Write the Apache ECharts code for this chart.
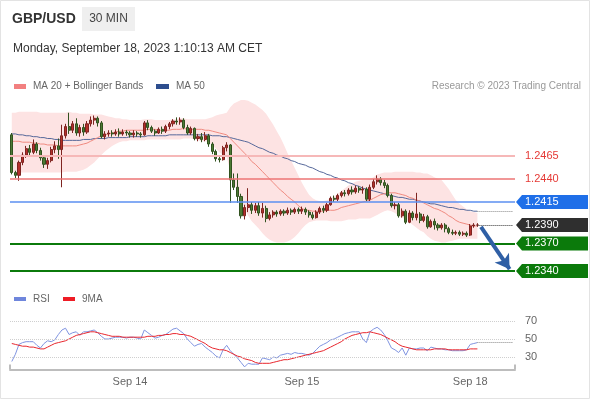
<!DOCTYPE html>
<html>
<head>
<meta charset="utf-8">
<title>GBP/USD 30 MIN</title>
<script src="https://cdn.jsdelivr.net/npm/echarts@6.0.0/dist/echarts.min.js"></script>
<style>
  html, body { margin: 0; padding: 0; background: #fff; }
  #chart { width: 590px; height: 400px; }
</style>
</head>
<body>
<div id="chart"></div>
<script>
// trading sessions: [first candle, number of 30 min candles]
const sessions = [
  ['2023-09-13 07:30', 127],
  ['2023-09-17 23:30', 4]
]
const padCount = 10

// [open, close, low, high]
const candles = [
  [1.2488,1.2447,1.2445,1.2490],[1.2447,1.2444,1.2441,1.2449],[1.2444,1.2458,1.2438,1.2460],[1.2458,1.2466,1.2455,1.2469],[1.2466,1.2473,1.2463,1.2476],
  [1.2473,1.2469,1.2466,1.2477],[1.2469,1.2478,1.2467,1.2483],[1.2478,1.2471,1.2468,1.2480],[1.2471,1.2463,1.2460,1.2474],[1.2463,1.2456,1.2452,1.2465],
  [1.2456,1.2460,1.2451,1.2463],[1.2460,1.2472,1.2458,1.2475],[1.2472,1.2476,1.2468,1.2481],[1.2476,1.2472,1.2462,1.2484],[1.2472,1.2487,1.2431,1.2499],
  [1.2487,1.2497,1.2484,1.2500],[1.2497,1.2493,1.2489,1.2512],[1.2493,1.2500,1.2490,1.2503],[1.2500,1.2490,1.2487,1.2506],[1.2490,1.2496,1.2486,1.2499],
  [1.2496,1.2491,1.2487,1.2500],[1.2491,1.2500,1.2489,1.2503],[1.2500,1.2504,1.2497,1.2508],[1.2504,1.2506,1.2499,1.2509],[1.2506,1.2501,1.2497,1.2508],
  [1.2501,1.2486,1.2484,1.2503],[1.2486,1.2489,1.2483,1.2492],[1.2489,1.2490,1.2486,1.2493],[1.2490,1.2489,1.2486,1.2493],[1.2489,1.2491,1.2487,1.2494],
  [1.2491,1.2489,1.2486,1.2495],[1.2489,1.2491,1.2487,1.2494],[1.2491,1.2490,1.2487,1.2493],[1.2490,1.2488,1.2485,1.2492],[1.2488,1.2490,1.2485,1.2493],
  [1.2490,1.2489,1.2486,1.2492],[1.2489,1.2488,1.2485,1.2491],[1.2488,1.2501,1.2487,1.2503],[1.2501,1.2496,1.2493,1.2504],[1.2496,1.2492,1.2490,1.2498],
  [1.2492,1.2490,1.2487,1.2494],[1.2490,1.2494,1.2489,1.2496],[1.2494,1.2492,1.2489,1.2497],[1.2492,1.2497,1.2490,1.2499],[1.2497,1.2500,1.2494,1.2502],
  [1.2500,1.2503,1.2497,1.2505],[1.2503,1.2502,1.2499,1.2507],[1.2502,1.2504,1.2499,1.2507],[1.2504,1.2496,1.2494,1.2506],[1.2496,1.2490,1.2488,1.2499],
  [1.2490,1.2495,1.2488,1.2497],[1.2495,1.2484,1.2482,1.2496],[1.2484,1.2486,1.2481,1.2489],[1.2486,1.2483,1.2480,1.2490],[1.2483,1.2487,1.2481,1.2491],
  [1.2487,1.2478,1.2475,1.2489],[1.2478,1.2470,1.2467,1.2480],[1.2470,1.2462,1.2459,1.2472],[1.2462,1.2461,1.2458,1.2466],[1.2461,1.2474,1.2460,1.2476],
  [1.2474,1.2477,1.2470,1.2480],[1.2477,1.2439,1.2414,1.2478],[1.2439,1.2431,1.2428,1.2446],[1.2431,1.2421,1.2414,1.2446],[1.2421,1.2400,1.2397,1.2424],
  [1.2400,1.2409,1.2396,1.2412],[1.2409,1.2412,1.2404,1.2430],[1.2412,1.2406,1.2402,1.2415],[1.2406,1.2411,1.2403,1.2414],[1.2411,1.2403,1.2400,1.2415],
  [1.2403,1.2408,1.2398,1.2414],[1.2408,1.2397,1.2393,1.2411],[1.2397,1.2401,1.2395,1.2404],[1.2401,1.2404,1.2398,1.2406],[1.2404,1.2402,1.2399,1.2406],
  [1.2402,1.2405,1.2400,1.2407],[1.2405,1.2403,1.2400,1.2407],[1.2403,1.2406,1.2401,1.2409],[1.2406,1.2404,1.2401,1.2408],[1.2404,1.2407,1.2402,1.2409],
  [1.2407,1.2405,1.2402,1.2409],[1.2405,1.2407,1.2402,1.2410],[1.2407,1.2404,1.2401,1.2409],[1.2404,1.2401,1.2398,1.2406],[1.2401,1.2398,1.2396,1.2404],
  [1.2398,1.2404,1.2397,1.2406],[1.2404,1.2408,1.2402,1.2410],[1.2408,1.2406,1.2403,1.2411],[1.2406,1.2412,1.2404,1.2414],[1.2412,1.2419,1.2411,1.2421],
  [1.2419,1.2418,1.2415,1.2422],[1.2418,1.2422,1.2416,1.2424],[1.2422,1.2425,1.2420,1.2427],[1.2425,1.2424,1.2421,1.2428],[1.2424,1.2428,1.2422,1.2430],
  [1.2428,1.2426,1.2423,1.2432],[1.2426,1.2430,1.2424,1.2433],[1.2430,1.2428,1.2425,1.2432],[1.2428,1.2429,1.2424,1.2432],[1.2429,1.2418,1.2416,1.2431],
  [1.2418,1.2431,1.2416,1.2434],[1.2431,1.2437,1.2429,1.2440],[1.2437,1.2440,1.2434,1.2444],[1.2440,1.2436,1.2433,1.2442],[1.2436,1.2433,1.2430,1.2439],
  [1.2433,1.2422,1.2420,1.2435],[1.2422,1.2411,1.2409,1.2424],[1.2411,1.2412,1.2407,1.2415],[1.2412,1.2400,1.2398,1.2414],[1.2400,1.2405,1.2398,1.2408],
  [1.2405,1.2393,1.2391,1.2407],[1.2393,1.2403,1.2392,1.2406],[1.2403,1.2398,1.2395,1.2405],[1.2398,1.2402,1.2395,1.2425],[1.2402,1.2395,1.2392,1.2404],
  [1.2395,1.2399,1.2393,1.2402],[1.2399,1.2388,1.2386,1.2401],[1.2388,1.2394,1.2387,1.2396],[1.2394,1.2390,1.2385,1.2397],[1.2390,1.2387,1.2384,1.2392],
  [1.2387,1.2390,1.2385,1.2392],[1.2390,1.2386,1.2382,1.2392],[1.2386,1.2382,1.2380,1.2388],[1.2382,1.2381,1.2379,1.2385],[1.2381,1.2382,1.2379,1.2384],
  [1.2382,1.2380,1.2378,1.2384],[1.2380,1.2381,1.2378,1.2383],[1.2381,1.2379,1.2377,1.2383],[1.2379,1.2389,1.2378,1.2391],[1.2389,1.2390,1.2387,1.2392],
  [1.2390,1.2390,1.2388,1.2392]
]

const ma20 = [
  1.2481,1.2481,1.2481,1.2480,1.2480,1.2480,1.2479,1.2479,1.2478,1.2478,
  1.2477,1.2477,1.2477,1.2476,1.2476,1.2476,1.2476,1.2476,1.2476,1.2477,
  1.2478,1.2479,1.2481,1.2483,1.2485,1.2487,1.2488,1.2489,1.2490,1.2491,
  1.2492,1.2492,1.2493,1.2493,1.2493,1.2493,1.2493,1.2493,1.2494,1.2494,
  1.2494,1.2493,1.2493,1.2493,1.2493,1.2494,1.2494,1.2494,1.2495,1.2494,
  1.2494,1.2494,1.2494,1.2494,1.2493,1.2493,1.2492,1.2491,1.2490,1.2489,
  1.2488,1.2484,1.2480,1.2476,1.2472,1.2468,1.2464,1.2459,1.2456,1.2452,
  1.2448,1.2444,1.2440,1.2436,1.2432,1.2428,1.2425,1.2421,1.2418,1.2415,
  1.2411,1.2408,1.2406,1.2406,1.2405,1.2405,1.2405,1.2405,1.2406,1.2406,
  1.2406,1.2407,1.2409,1.2410,1.2411,1.2412,1.2413,1.2414,1.2415,1.2416,
  1.2417,1.2419,1.2421,1.2423,1.2424,1.2425,1.2425,1.2425,1.2424,1.2423,
  1.2422,1.2420,1.2419,1.2417,1.2416,1.2414,1.2412,1.2410,1.2408,1.2407,
  1.2405,1.2403,1.2400,1.2398,1.2395,1.2393,1.2392,1.2391,1.2390,1.2389,
  1.2389
]

const bbUpper = [
  1.2512,1.2512,1.2513,1.2513,1.2513,1.2513,1.2513,1.2513,1.2512,1.2512,
  1.2512,1.2512,1.2512,1.2512,1.2512,1.2512,1.2513,1.2512,1.2512,1.2511,
  1.2511,1.2511,1.2511,1.2510,1.2510,1.2510,1.2509,1.2508,1.2507,1.2506,
  1.2506,1.2505,1.2505,1.2504,1.2504,1.2504,1.2504,1.2505,1.2505,1.2505,
  1.2504,1.2504,1.2504,1.2504,1.2504,1.2505,1.2505,1.2506,1.2506,1.2505,
  1.2505,1.2505,1.2505,1.2505,1.2505,1.2506,1.2507,1.2509,1.2510,1.2511,
  1.2512,1.2518,1.2522,1.2524,1.2526,1.2526,1.2525,1.2523,1.2521,1.2518,
  1.2515,1.2511,1.2505,1.2499,1.2492,1.2485,1.2477,1.2468,1.2460,1.2452,
  1.2444,1.2436,1.2429,1.2423,1.2419,1.2417,1.2416,1.2416,1.2417,1.2419,
  1.2421,1.2424,1.2427,1.2430,1.2433,1.2435,1.2437,1.2438,1.2439,1.2439,
  1.2440,1.2442,1.2445,1.2446,1.2447,1.2447,1.2447,1.2448,1.2448,1.2448,
  1.2448,1.2448,1.2448,1.2447,1.2447,1.2446,1.2446,1.2444,1.2442,1.2440,
  1.2439,1.2434,1.2429,1.2423,1.2417,1.2413,1.2410,1.2407,1.2405,1.2404,
  1.2403
]

const bbLower = [
  1.2448,1.2447,1.2447,1.2447,1.2447,1.2447,1.2447,1.2447,1.2447,1.2447,
  1.2447,1.2447,1.2447,1.2447,1.2447,1.2448,1.2448,1.2448,1.2448,1.2449,
  1.2450,1.2452,1.2455,1.2458,1.2462,1.2466,1.2470,1.2473,1.2476,1.2478,
  1.2480,1.2481,1.2481,1.2482,1.2482,1.2482,1.2482,1.2482,1.2483,1.2483,
  1.2483,1.2483,1.2483,1.2483,1.2483,1.2483,1.2483,1.2483,1.2484,1.2484,
  1.2484,1.2483,1.2482,1.2481,1.2481,1.2480,1.2477,1.2473,1.2469,1.2466,
  1.2464,1.2449,1.2437,1.2426,1.2416,1.2407,1.2400,1.2394,1.2390,1.2386,
  1.2381,1.2377,1.2374,1.2372,1.2371,1.2371,1.2371,1.2372,1.2374,1.2377,
  1.2381,1.2386,1.2390,1.2393,1.2394,1.2395,1.2395,1.2395,1.2395,1.2394,
  1.2394,1.2394,1.2394,1.2395,1.2396,1.2396,1.2396,1.2397,1.2397,1.2397,
  1.2397,1.2399,1.2401,1.2403,1.2405,1.2406,1.2405,1.2403,1.2400,1.2398,
  1.2396,1.2393,1.2390,1.2387,1.2384,1.2382,1.2378,1.2375,1.2373,1.2372,
  1.2371,1.2371,1.2372,1.2373,1.2374,1.2375,1.2375,1.2375,1.2375,1.2375,
  1.2375
]

const ma50 = [
  1.2489,1.2489,1.2488,1.2488,1.2487,1.2487,1.2486,1.2486,1.2485,1.2485,
  1.2484,1.2484,1.2483,1.2483,1.2482,1.2482,1.2482,1.2482,1.2482,1.2482,
  1.2483,1.2483,1.2483,1.2484,1.2484,1.2484,1.2484,1.2485,1.2485,1.2485,
  1.2485,1.2485,1.2485,1.2486,1.2486,1.2486,1.2486,1.2486,1.2487,1.2487,
  1.2487,1.2487,1.2487,1.2487,1.2488,1.2488,1.2488,1.2488,1.2488,1.2488,
  1.2488,1.2488,1.2488,1.2488,1.2488,1.2488,1.2487,1.2487,1.2487,1.2486,
  1.2486,1.2485,1.2484,1.2483,1.2482,1.2481,1.2480,1.2478,1.2476,1.2474,
  1.2473,1.2471,1.2469,1.2468,1.2466,1.2465,1.2463,1.2462,1.2460,1.2459,
  1.2457,1.2456,1.2455,1.2453,1.2452,1.2450,1.2448,1.2447,1.2445,1.2444,
  1.2442,1.2441,1.2439,1.2438,1.2436,1.2435,1.2433,1.2432,1.2430,1.2429,
  1.2428,1.2427,1.2426,1.2425,1.2424,1.2423,1.2422,1.2421,1.2420,1.2420,
  1.2419,1.2418,1.2418,1.2417,1.2416,1.2415,1.2414,1.2413,1.2413,1.2412,
  1.2411,1.2410,1.2409,1.2409,1.2408,1.2407,1.2407,1.2406,1.2406,1.2405,
  1.2405
]

const rsi = [
  25,33,44,46,47,47,47,43,40,45,
  48,47,49,55,60,62,55,57,58,54,
  58,58,59,60,57,53,50,50,51,52,
  52,52,51,52,52,51,50,60,57,54,
  51,52,54,55,58,61,62,59,56,50,
  46,42,44,45,41,38,35,31,29,38,
  43,37,33,29,24,19,23,22,22,22,
  29,28,27,30,29,32,33,34,33,35,
  34,34,33,32,34,38,42,44,46,49,
  50,52,54,56,57,58,58,58,50,46,
  58,61,63,60,55,48,40,38,35,40,
  32,40,39,39,40,40,37,41,40,39,
  39,38,38,37,37,37,37,38,44,45,
  46
]

const rsiMa = [
  45,44,43,42,42,41,41,40,39,39,
  41,43,45,46,47,48,50,52,54,55,
  56,57,58,58,57,56,55,54,53,53,
  53,52,52,52,52,52,52,52,53,53,
  53,54,54,55,55,56,56,55,55,54,
  53,51,49,47,45,42,40,39,38,38,
  37,35,33,31,30,28,27,26,24,23,
  23,23,23,24,25,26,27,27,28,29,
  30,31,32,33,34,35,36,37,39,41,
  43,45,47,50,52,54,55,56,57,57,
  58,57,56,55,53,51,49,47,44,42,
  41,40,39,38,38,38,38,38,39,39,
  39,39,38,38,38,38,38,38,39,39,
  39
]

const resistLevels = [1.2465, 1.2440]
const pivotLevel = 1.2415
const supportLevels = [1.2370, 1.2340]
const rsiLevels = [30, 50, 70]
// forecast arrow, [candle index, price]
const arrowFrom = [131, 1.2388]
const arrowTo = [139, 1.2342]

const FONT = "'Liberation Sans', Arial, sans-serif"

function buildCategories() {
  let cats = []
  sessions.forEach(function (s) {
    let t = new Date(s[0].replace(' ', 'T') + ':00Z').getTime()
    for (let i = 0; i < s[1]; i++) {
      cats.push(new Date(t + i * 1800000).toISOString().slice(0, 16).replace('T', ' '))
    }
  })
  for (let i = 0; i < padCount; i++) cats.push('pad' + i)
  return cats
}

const categories = buildCategories()
const lastIdx = candles.length - 1
const endIdx = categories.length - 1
const lastClose = candles[lastIdx][1]
const fmt4 = function (p) { return Number(p.value).toFixed(4) }

function txt(x, y, text, size, color, extra) {
  return Object.assign({
    type: 'text', x: x, y: y, silent: true,
    style: { text: text, font: size + 'px ' + FONT, fill: color, verticalAlign: 'middle', align: 'left' }
  }, extra || {})
}

// a level line series of its own, so each one keeps its colour
function levelSeries(value, color, width, withLabel) {
  return {
    name: 'level ' + value, type: 'line', data: [], symbol: 'none', silent: true, z: 2,
    color: color,
    markLine: {
      symbol: 'none', silent: true, precision: 4,
      lineStyle: { color: color, width: width, type: 'solid', opacity: 1 },
      label: withLabel
        ? { show: true, position: 'end', distance: 10, color: '#e53935', fontSize: 11, formatter: fmt4 }
        : { show: false },
      data: [{ yAxis: value }]
    }
  }
}

const staticGraphic = [
  { type: 'rect', silent: true, shape: { x: 0.5, y: 0.5, width: 589, height: 398 }, style: { fill: 'none', stroke: '#e3e3e3' } },
  txt(12, 19, 'GBP/USD', 'bold 14', '#333'),
  { type: 'rect', silent: true, shape: { x: 82, y: 7, width: 53, height: 24 }, style: { fill: '#efefef' } },
  { type: 'text', x: 108.5, y: 19, silent: true, style: { text: '30 MIN', font: '12px ' + FONT, fill: '#444', align: 'center', verticalAlign: 'middle' } },
  txt(13, 49, 'Monday, September 18, 2023 1:10:13 AM CET', 12, '#333'),
  { type: 'rect', silent: true, shape: { x: 14, y: 84, width: 12, height: 5 }, style: { fill: '#f28080' } },
  txt(33, 86.5, 'MA 20 + Bollinger Bands', 10, '#666'),
  { type: 'rect', silent: true, shape: { x: 156, y: 84, width: 13, height: 5 }, style: { fill: '#2d4e8e' } },
  txt(176, 86.5, 'MA 50', 10, '#666'),
  { type: 'text', x: 581, y: 86.5, silent: true, style: { text: 'Research © 2023 Trading Central', font: '10px ' + FONT, fill: '#999', align: 'right', verticalAlign: 'middle' } },
  { type: 'rect', silent: true, shape: { x: 14, y: 297, width: 12, height: 4 }, style: { fill: '#6f86dc' } },
  txt(33, 299, 'RSI', 10, '#666'),
  { type: 'rect', silent: true, shape: { x: 63, y: 297, width: 12, height: 4 }, style: { fill: '#ee1c25' } },
  txt(82, 299, '9MA', 10, '#666')
]

let chart = echarts.init(document.getElementById('chart'))

const option = {
  animation: false,
  textStyle: { fontFamily: FONT },
  grid: [
    { left: 10, right: 75, top: 99.88, height: 180.32, outerBoundsMode: 'none' },
    { left: 10, right: 75, top: 315.6, height: 54, outerBoundsMode: 'none' }
  ],
  xAxis: [
    { type: 'category', gridIndex: 0, data: categories, boundaryGap: true, show: false },
    {
      type: 'category', gridIndex: 1, data: categories, boundaryGap: true,
      axisLine: { lineStyle: { color: '#bdbdbd', width: 2 } },
      axisTick: { show: true, inside: true, length: 5, interval: function (i) { return i === 0 }, lineStyle: { color: '#bdbdbd', width: 2 } },
      axisLabel: {
        interval: function (i, v) { return v.slice(11) === '00:00' },
        formatter: function (v) { return 'Sep ' + Number(v.slice(8, 10)) },
        color: '#666', fontSize: 11, margin: 7
      },
      splitLine: { show: false }
    }
  ],
  yAxis: [
    { type: 'value', gridIndex: 0, min: 1.2330, max: 1.2526, show: false, splitLine: { show: false } },
    { type: 'value', gridIndex: 1, min: 16, max: 76, show: false, splitLine: { show: false } }
  ],
  series: [
    {
      name: 'bbLower', type: 'line', data: bbLower, stack: 'bb', symbol: 'none', silent: true, z: 1,
      lineStyle: { opacity: 0 }
    },
    {
      name: 'bbBand', type: 'line', stack: 'bb', symbol: 'none', silent: true, z: 1,
      data: bbUpper.map(function (u, i) { return +(u - bbLower[i]).toFixed(4) }),
      lineStyle: { opacity: 0 },
      areaStyle: { color: '#fde3e3', opacity: 1 }
    },
    levelSeries(resistLevels[0], '#f6b8b8', 2, true),
    levelSeries(resistLevels[1], '#ec7474', 1.5, true),
    levelSeries(pivotLevel, '#5b8ff0', 1.5, false),
    levelSeries(supportLevels[0], '#0b7a0b', 2, false),
    levelSeries(supportLevels[1], '#0b7a0b', 2, false),
    {
      name: 'MA 50', type: 'line', data: ma50, symbol: 'none', silent: true, z: 2,
      lineStyle: { color: '#56689a', width: 1 },
      markLine: {
        symbol: 'none', silent: true, precision: 4, label: { show: false },
        lineStyle: { type: 'dotted', color: '#8a8a8a', width: 1 },
        data: [[{ coord: [lastIdx, ma50[lastIdx]] }, { coord: [endIdx, ma50[lastIdx]] }]]
      }
    },
    {
      name: 'MA 20', type: 'line', data: ma20, symbol: 'none', silent: true, z: 2,
      lineStyle: { color: '#f08a80', width: 1 }
    },
    {
      name: 'GBP/USD', type: 'candlestick', data: candles, barWidth: 2.6, silent: true, z: 3,
      itemStyle: {
        color: '#b5302a', color0: '#4c7a34',
        borderColor: '#7e2420', borderColor0: '#31521f', borderWidth: 1
      },
      markLine: {
        symbol: 'none', silent: true, precision: 4,
        label: { show: false },
        data: [
          [{ coord: [lastIdx, lastClose], lineStyle: { color: '#333', width: 1, type: 'dotted' } }, { coord: [endIdx, lastClose] }],
          [{ coord: arrowFrom, symbol: 'none', lineStyle: { color: '#2f5fa5', width: 4, type: 'solid' } },
           { coord: arrowTo, symbol: 'arrow', symbolSize: [13, 14] }]
        ]
      }
    },
    {
      name: 'RSI', type: 'line', xAxisIndex: 1, yAxisIndex: 1, data: rsi, symbol: 'none', silent: true,
      lineStyle: { color: '#7f93e0', width: 1 },
      markLine: {
        symbol: 'none', silent: true, label: { show: false },
        lineStyle: { type: 'dotted', color: '#888', width: 1 },
        data: [[{ coord: [lastIdx, rsi[lastIdx]] }, { coord: [endIdx, rsi[lastIdx]] }]]
      }
    },
    {
      name: '9MA', type: 'line', xAxisIndex: 1, yAxisIndex: 1, data: rsiMa, symbol: 'none', silent: true,
      lineStyle: { color: '#e8262d', width: 1 },
      markLine: {
        symbol: 'none', silent: true,
        lineStyle: { type: 'dotted', color: '#cfcfcf', width: 1 },
        label: { show: true, position: 'end', distance: 10, color: '#666', fontSize: 11, formatter: '{c}' },
        data: rsiLevels.map(function (v) { return { yAxis: v } })
      }
    }
  ],
  graphic: staticGraphic
}

chart.setOption(option)

// right-hand price tags, placed through the price axis
const tagDefs = [
  [pivotLevel, '#1f6fe8'],
  [lastClose, '#2f2f2f'],
  [supportLevels[0], '#0b7a0b'],
  [supportLevels[1], '#0b7a0b']
]
let tags = []
tagDefs.forEach(function (t) {
  let y = chart.convertToPixel({ yAxisIndex: 0 }, t[0])
  tags.push({
    type: 'polygon', silent: true,
    shape: { points: [[516, y], [522, y - 7], [588, y - 7], [588, y + 7], [522, y + 7]] },
    style: { fill: t[1] }
  })
  tags.push(txt(525, y, t[0].toFixed(4), 11, '#fff'))
})
chart.setOption({ graphic: staticGraphic.concat(tags) })
</script>
</body>
</html>
